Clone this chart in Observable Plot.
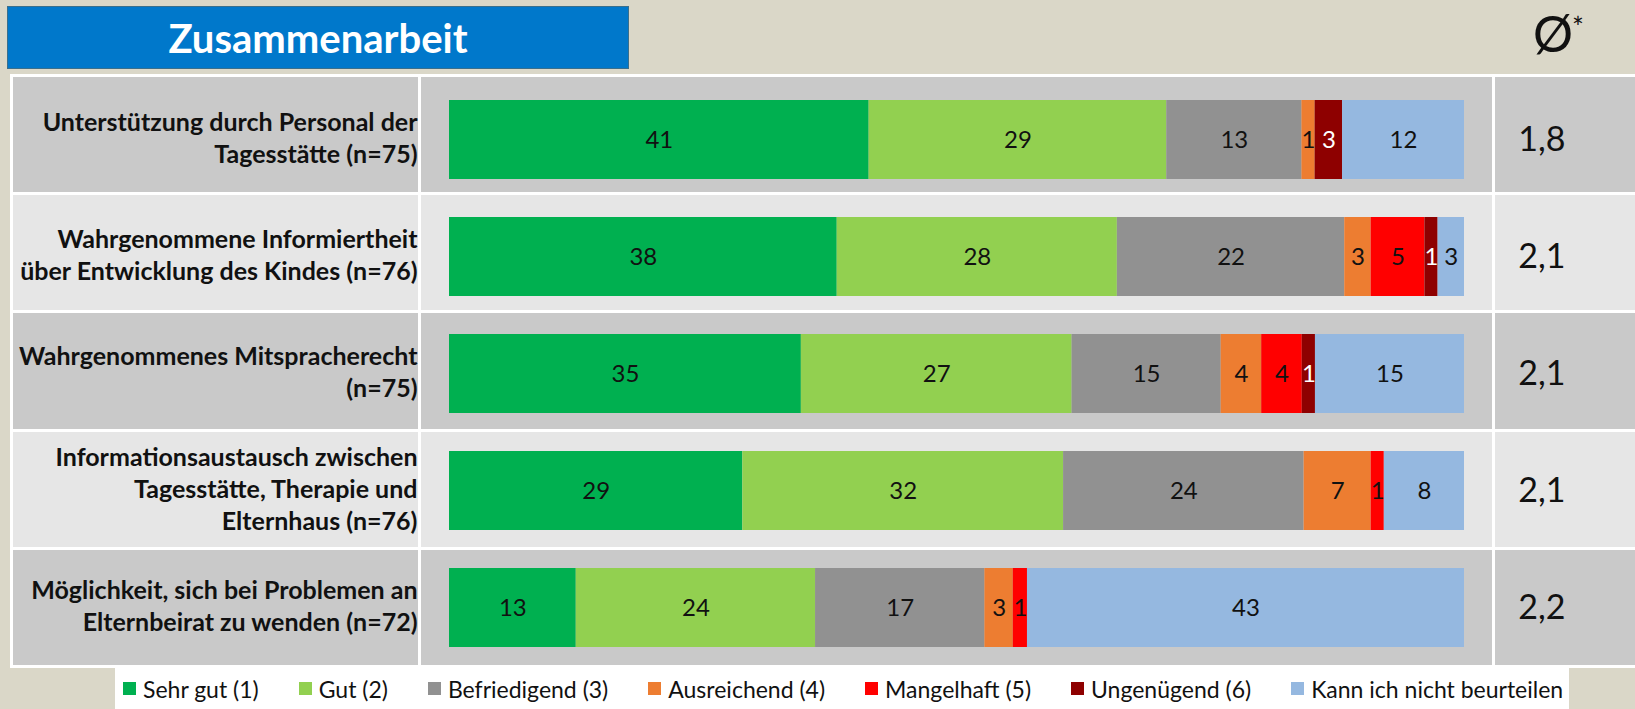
<!DOCTYPE html>
<html>
<head>
<meta charset="utf-8">
<script src="https://cdn.jsdelivr.net/npm/d3@7"></script>
<script src="https://cdn.jsdelivr.net/npm/@observablehq/plot@0.6"></script>
<style>
  html, body { margin: 0; padding: 0; background: #DAD7C8; }
  #page { position: relative; width: 1635px; height: 709px; overflow: hidden; font-family: Lato, "Open Sans", sans-serif; }
  #title { position: absolute; left: 7px; top: 6px; width: 620px; height: 61px; background: #0078CB; border: 1px solid #3A6F8C;
           color: white; font-weight: bold; font-size: 40px; display: flex; align-items: center; justify-content: center; }
  #avghead { position: absolute; left: 1533px; top: 3px; font-size: 50px; color: #111; line-height: 60px; }
  #avghead sup { font-size: 28px; position: relative; top: 4px; margin-left: -1px; vertical-align: top; line-height: 40px; }
  #table { position: absolute; left: 10px; top: 74px; width: 1625px; height: 594px; background: #fff; box-sizing: border-box;
           padding: 3px 0 3px 3px; display: grid; grid-template-columns: 405px 1071px 140px; column-gap: 3px; row-gap: 3px; }
  #chart { position: absolute; left: 0; top: 74px; }
  #legend { position: absolute; left: 115px; top: 668px; width: 1454px; height: 41px; background: #fff; box-sizing: border-box;
            padding-left: 8px; display: flex; align-items: center; column-gap: 40px; font-size: 23px; color: #111; }
  .li { display: flex; align-items: center; white-space: nowrap; }
  .sw { width: 13px; height: 13px; margin-right: 7px; }
</style>
</head>
<body>
<div id="page">
  <div id="title"><span>Zusammenarbeit</span></div>
  <div id="avghead">Ø<sup>*</sup></div>
  <div id="table"></div>
  <div id="chart"></div>
  <div id="legend"></div>
</div>
<script>
const rows = [
  "Unterstützung durch Personal der\nTagesstätte (n=75)",
  "Wahrgenommene Informiertheit\nüber Entwicklung des Kindes (n=76)",
  "Wahrgenommenes Mitspracherecht\n(n=75)",
  "Informationsaustausch zwischen\nTagesstätte, Therapie und\nElternhaus (n=76)",
  "Möglichkeit, sich bei Problemen an\nElternbeirat zu wenden (n=72)"
];
const categories = ["Sehr gut (1)", "Gut (2)", "Befriedigend (3)", "Ausreichend (4)", "Mangelhaft (5)", "Ungenügend (6)", "Kann ich nicht beurteilen"];
const colors = ["#00B050", "#92D050", "#919191", "#ED7D31", "#FF0000", "#8E0000", "#95B8E0"];

// percentage shares per row (printed labels are rounded)
const sehrGut      = [41.3, 38.2, 34.7, 28.9, 12.5];
const gut          = [29.3, 27.6, 26.7, 31.6, 23.6];
const befriedigend = [13.3, 22.4, 14.7, 23.7, 16.7];
const ausreichend  = [ 1.3,  2.6,  4.0,  6.6,  2.8];
const mangelhaft   = [ 0,    5.3,  4.0,  1.3,  1.4];
const ungenuegend  = [ 2.7,  1.3,  1.3,  0,    0  ];
const kannNicht    = [12.0,  2.6, 14.7,  7.9, 43.1];
const averages = ["1,8", "2,1", "2,1", "2,1", "2,2"];

const rowBg = ["#C9C9C9", "#E6E6E6"];

const series = [sehrGut, gut, befriedigend, ausreichend, mangelhaft, ungenuegend, kannNicht];
const data = [];
rows.forEach((row, i) => {
  series.forEach((s, j) => {
    if (s[i] > 0) data.push({row, cat: categories[j], value: s[i]});
  });
});
const avgData = rows.map((row, i) => ({row, avg: averages[i]}));

// table backgrounds
const table = document.getElementById("table");
rows.forEach((r, i) => {
  for (let c = 0; c < 3; c++) {
    const d = document.createElement("div");
    d.style.background = rowBg[i % 2];
    table.appendChild(d);
  }
});

const stackOpts = {offset: "normalize"};
const fmt = d => String(Math.round(d.value));
const chart = Plot.plot({
  width: 1635,
  height: 594,
  marginLeft: 449,
  marginRight: 171,
  marginTop: 5.75,
  marginBottom: 0.75,
  style: {background: "transparent", fontFamily: "Lato, 'Open Sans', sans-serif", color: "#111"},
  x: {domain: [0, 1], axis: null},
  y: {domain: rows, axis: null, paddingInner: 0.328, paddingOuter: 0.164},
  color: {domain: categories, range: colors},
  marks: [
    Plot.barX(data, Plot.stackX(stackOpts, {x: "value", y: "row", fill: "cat"})),
    Plot.text(data, Plot.stackX(stackOpts, {
      x: "value", y: "row",
      text: d => d.cat !== categories[5] ? fmt(d) : null,
      fill: "#111", fontSize: 24
    })),
    Plot.text(data, Plot.stackX(stackOpts, {
      x: "value", y: "row",
      text: d => d.cat === categories[5] ? fmt(d) : null,
      fill: "white", fontSize: 24
    })),
    Plot.text(rows, {
      y: d => d, text: d => d, frameAnchor: "left", dx: -32, dy: -3, textAnchor: "end",
      fontWeight: "bold", fontSize: 25, lineHeight: 1.28, fill: "#111"
    }),
    Plot.text(avgData, {
      y: "row", text: "avg", frameAnchor: "right", dx: 101, fontSize: 34, fill: "#111"
    })
  ]
});
document.getElementById("chart").appendChild(chart);

// legend
const legend = document.getElementById("legend");
categories.forEach((c, i) => {
  const item = document.createElement("div");
  item.className = "li";
  const sw = document.createElement("div");
  sw.className = "sw";
  sw.style.background = colors[i];
  const t = document.createElement("span");
  t.textContent = c;
  item.appendChild(sw);
  item.appendChild(t);
  legend.appendChild(item);
});
</script>
</body>
</html>
